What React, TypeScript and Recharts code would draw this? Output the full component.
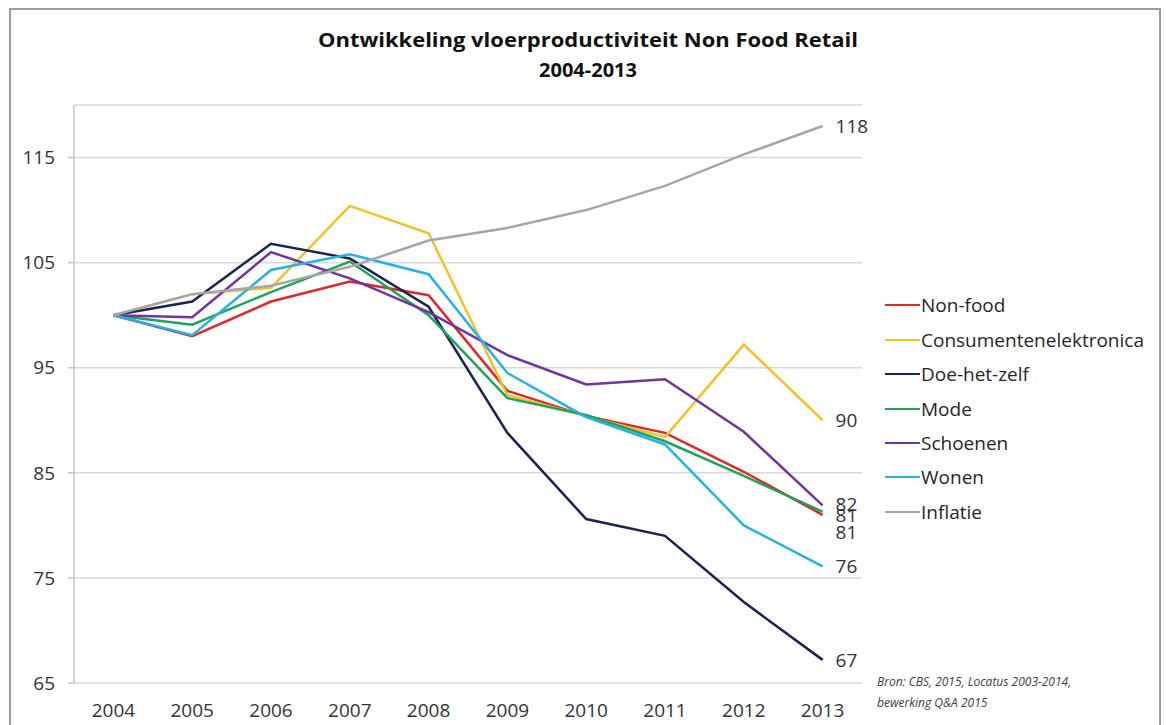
import React from 'react';
import { LineChart, Line, XAxis, YAxis, CartesianGrid, Legend } from 'recharts';

const FONT = '"Open Sans", "DejaVu Sans", sans-serif';
const W = 1166;
const H = 725;

const years = [2004, 2005, 2006, 2007, 2008, 2009, 2010, 2011, 2012, 2013];
const yTicks = [65, 75, 85, 95, 105, 115];
const xTickMarks = [2003.5, 2004.5, 2005.5, 2006.5, 2007.5, 2008.5, 2009.5, 2010.5, 2011.5, 2012.5, 2013.5];

const nonFood = [100, 98.0, 101.3, 103.2, 101.9, 92.8, 90.4, 88.8, 85.1, 81.0];
const consumentenelektronica = [100, 102.0, 102.6, 110.4, 107.8, 92.4, 90.4, 88.4, 97.2, 90.0];
const doeHetZelf = [100, 101.3, 106.8, 105.4, 100.8, 88.8, 80.6, 79.0, 72.7, 67.2];
const mode = [100, 99.1, 102.2, 105.1, 100.0, 92.1, 90.5, 88.0, 84.7, 81.3];
const schoenen = [100, 99.8, 106.0, 103.5, 100.3, 96.2, 93.4, 93.9, 88.9, 81.9];
const wonen = [100, 98.1, 104.3, 105.8, 103.9, 94.5, 90.3, 87.7, 80.0, 76.1];
const inflatie = [100, 102.0, 102.8, 104.6, 107.1, 108.3, 110.0, 112.3, 115.3, 118.0];

const data = years.map((year, i) => ({
  year,
  nonFood: nonFood[i],
  consumentenelektronica: consumentenelektronica[i],
  doeHetZelf: doeHetZelf[i],
  mode: mode[i],
  schoenen: schoenen[i],
  wonen: wonen[i],
  inflatie: inflatie[i],
}));

const series = [
  { key: 'nonFood', name: 'Non-food', color: '#e3262c', labelDy: 17 },
  { key: 'consumentenelektronica', name: 'Consumentenelektronica', color: '#f3c229', labelDy: 0 },
  { key: 'doeHetZelf', name: 'Doe-het-zelf', color: '#1b2350', labelDy: 0 },
  { key: 'mode', name: 'Mode', color: '#1ea35a', labelDy: 3 },
  { key: 'schoenen', name: 'Schoenen', color: '#7034a0', labelDy: -1 },
  { key: 'wonen', name: 'Wonen', color: '#27b2e4', labelDy: 0 },
  { key: 'inflatie', name: 'Inflatie', color: '#a6a6a6', labelDy: 0 },
];

const seriesOrder = series.map((s) => s.name);

const makeEndLabel = (dy: number) => (props: any) => {
  const { x, y, index, value } = props;
  if (index !== years.length - 1 || x == null || y == null) return <g />;
  return (
    <text
      x={x + 13}
      y={y + dy}
      dominantBaseline="central"
      fontSize={19}
      fontFamily={FONT}
      fill="#333"
    >
      {Math.round(Number(value))}
    </text>
  );
};

const renderLegend = (props: any) => {
  const payload = [...(props.payload || [])].sort(
    (a: any, b: any) => seriesOrder.indexOf(a.value) - seriesOrder.indexOf(b.value)
  );
  return (
    <div style={{ fontFamily: FONT, fontSize: 19, color: '#262626' }}>
      {payload.map((p: any) => (
        <div key={p.value} style={{ display: 'flex', alignItems: 'center', height: 34.45, whiteSpace: 'nowrap' }}>
          <span
            style={{
              display: 'inline-block',
              width: 35,
              height: 0,
              borderTop: `2.5px solid ${p.color}`,
              marginRight: 1,
            }}
          />
          <span>{p.value}</span>
        </div>
      ))}
    </div>
  );
};

export default function App() {
  return (
    <div style={{ position: 'absolute', left: 0, top: 0, width: W, height: H, background: '#fff', fontFamily: FONT }}>
      <LineChart
        width={W}
        height={H}
        data={data}
        margin={{ top: 105, right: 304, bottom: 0, left: 0 }}
      >
        <CartesianGrid horizontal vertical={false} stroke="#d9d9d9" strokeWidth={1.5} />
        <XAxis
          xAxisId={0}
          dataKey="year"
          type="number"
          domain={[2003.5, 2013.5]}
          ticks={xTickMarks}
          interval={0}
          tick={false}
          tickSize={6}
          height={0}
          axisLine={{ stroke: '#c6c6c6', strokeWidth: 1.5 }}
          tickLine={{ stroke: '#c6c6c6', strokeWidth: 1.5 }}
        />
        <XAxis
          xAxisId="lab"
          dataKey="year"
          type="number"
          domain={[2003.5, 2013.5]}
          ticks={years}
          interval={0}
          tickSize={0}
          tickMargin={21}
          height={42}
          axisLine={false}
          tickLine={false}
          tick={{ fill: '#333', fontSize: 19, fontFamily: FONT }}
        />
        <YAxis
          type="number"
          domain={[65, 120]}
          ticks={yTicks}
          interval={0}
          width={74}
          tickSize={6}
          tickMargin={13}
          axisLine={{ stroke: '#c6c6c6', strokeWidth: 1.5 }}
          tickLine={{ stroke: '#c6c6c6', strokeWidth: 1.5 }}
          tick={{ fill: '#333', fontSize: 19, fontFamily: FONT }}
        />
        <Legend
          layout="vertical"
          align="center"
          verticalAlign="middle"
          itemSorter={null as any}
          content={renderLegend}
          wrapperStyle={{ left: 885, top: 288, width: 270, height: 'auto' }}
        />
        {series.map((s) => (
          <Line
            key={s.key}
            xAxisId={0}
            type="linear"
            dataKey={s.key}
            name={s.name}
            stroke={s.color}
            strokeWidth={2.5}
            dot={false}
            activeDot={false}
            isAnimationActive={false}
            label={makeEndLabel(s.labelDy)}
          />
        ))}
      </LineChart>
      <svg
        width={W}
        height={H}
        style={{ position: 'absolute', left: 0, top: 0, pointerEvents: 'none' }}
      >
        <rect x={10} y={9} width={1150} height={740} fill="none" stroke="#9c9c9c" strokeWidth={2} />
        <text
          x={588}
          y={47}
          textAnchor="middle"
          fontFamily={FONT}
          fontWeight="bold"
          fontSize={20}
          fill="#111"
          textLength={540}
          lengthAdjust="spacingAndGlyphs"
        >
          Ontwikkeling vloerproductiviteit Non Food Retail
        </text>
        <text x={588} y={77} textAnchor="middle" fontFamily={FONT} fontWeight="bold" fontSize={20} fill="#111">
          2004-2013
        </text>
        <text x={877} y={686} fontFamily={FONT} fontStyle="italic" fontSize={12} fill="#404040">
          Bron: CBS, 2015, Locatus 2003-2014,
        </text>
        <text x={877} y={707} fontFamily={FONT} fontStyle="italic" fontSize={12} fill="#404040">
          bewerking Q&amp;A 2015
        </text>
      </svg>
    </div>
  );
}
